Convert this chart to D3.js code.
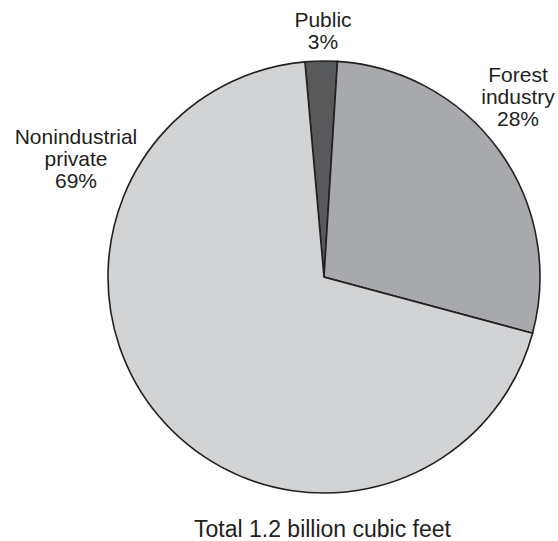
<!DOCTYPE html>
<html>
<head>
<meta charset="utf-8">
<script src="https://cdn.jsdelivr.net/npm/d3@7/dist/d3.min.js"></script>
<style>
  html, body { margin: 0; padding: 0; background: #fff; }
  svg { display: block; }
  text { font-family: "Liberation Sans", Arial, Helvetica, sans-serif; fill: #231f20; }
</style>
</head>
<body>
<svg id="chart" width="558" height="541"></svg>
<script>
// Data
const categories = ["Public", "Forest industry", "Nonindustrial private"];
const values = [2.4, 28.2, 69.4];
const percentLabels = ["3%", "28%", "69%"];
const labelLines = [["Public"], ["Forest", "industry"], ["Nonindustrial", "private"]];
const totalLabel = "Total 1.2 billion cubic feet";

const colors = ["#58595b", "#a7a9ac", "#d1d3d4"];

const svg = d3.select("#chart");
const cx = 324, cy = 277, r = 216;

const startDeg = -5.07;
const pie = d3.pie().sort(null).value(d => d)
  .startAngle(startDeg * Math.PI / 180)
  .endAngle((startDeg + 360) * Math.PI / 180);
const arc = d3.arc().innerRadius(0).outerRadius(r);

const g = svg.append("g").attr("transform", `translate(${cx},${cy})`);
g.selectAll("path")
  .data(pie(values))
  .join("path")
  .attr("d", arc)
  .attr("fill", (d, i) => colors[i])
  .attr("stroke", "#231f20")
  .attr("stroke-width", 1.6)
  .attr("stroke-linejoin", "miter");

// Labels
const labelPos = [
  { x: 323, y: 27 },
  { x: 518, y: 82 },
  { x: 76, y: 144 }
];
const lh = 22;
categories.forEach((c, i) => {
  const t = svg.append("text")
    .attr("text-anchor", "middle")
    .attr("font-size", 21);
  const lines = labelLines[i].concat([percentLabels[i]]);
  lines.forEach((ln, j) => {
    t.append("tspan")
      .attr("x", labelPos[i].x)
      .attr("y", labelPos[i].y + j * lh)
      .text(ln);
  });
});

svg.append("text")
  .attr("x", 322.5)
  .attr("y", 536.5)
  .attr("text-anchor", "middle")
  .attr("font-size", 23)
  .text(totalLabel);
</script>
</body>
</html>
